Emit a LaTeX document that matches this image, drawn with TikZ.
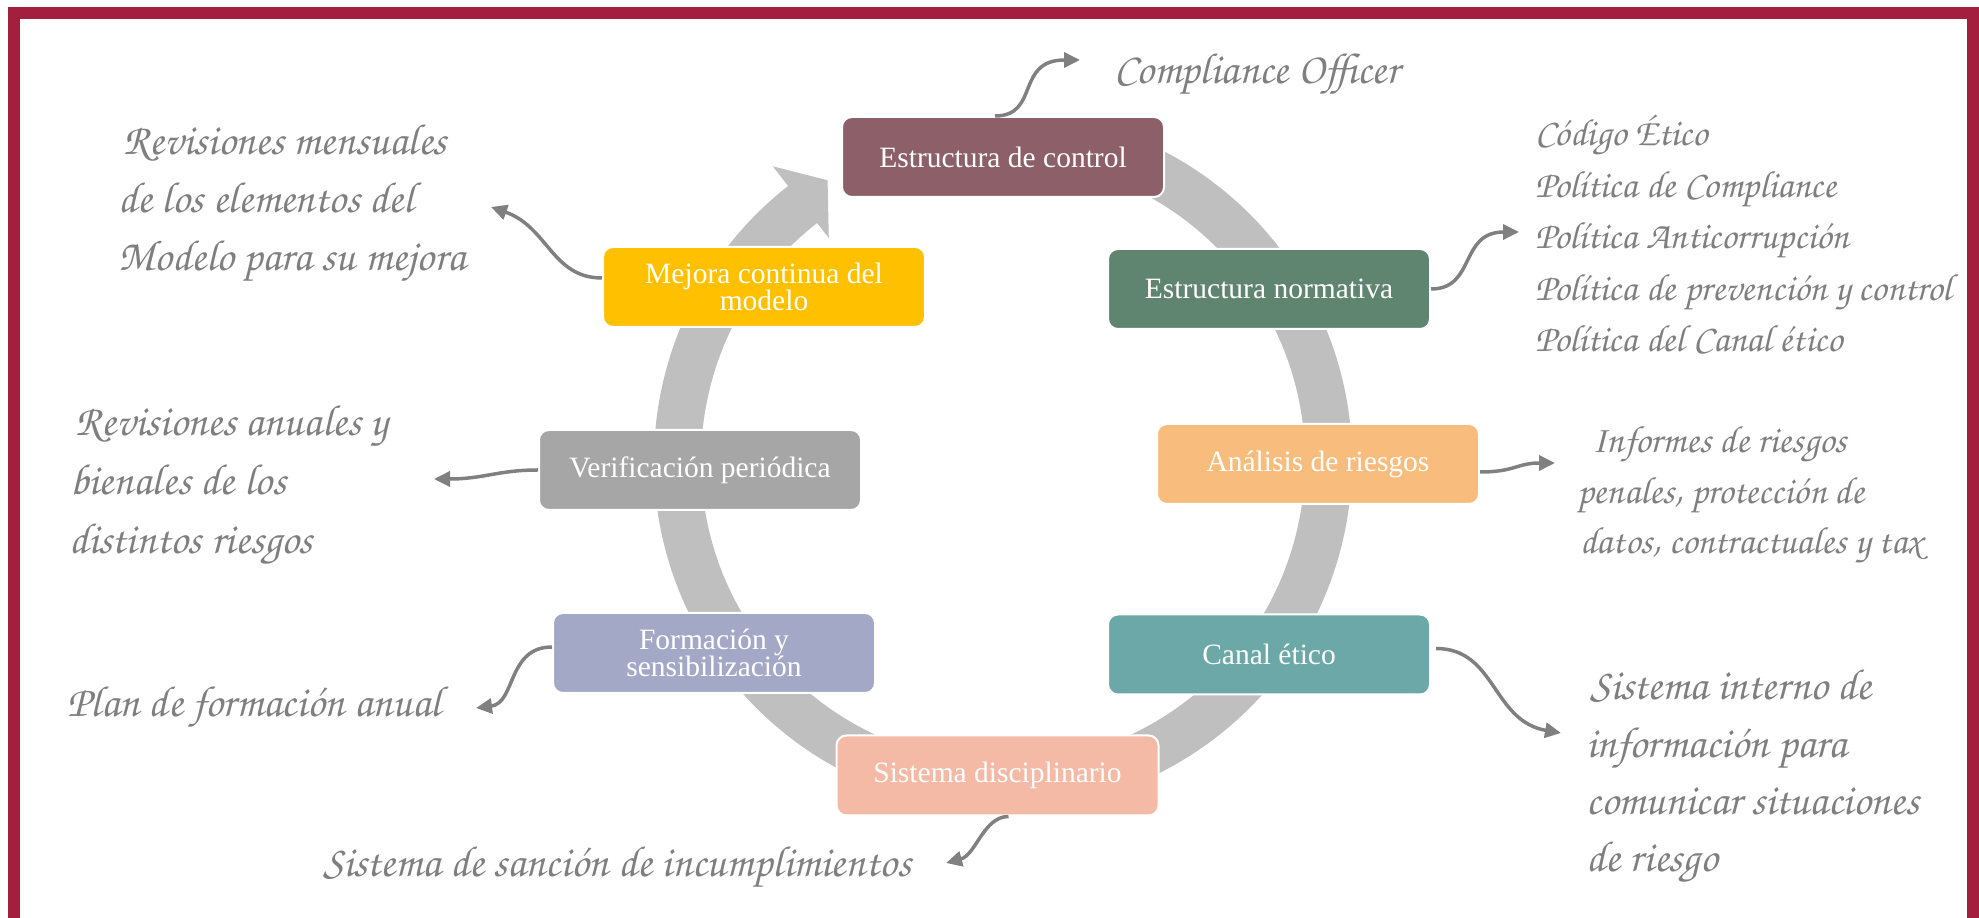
\documentclass[tikz,border=0pt]{standalone}
\usepackage{fontspec}
\setmainfont{Liberation Serif}
\newfontfamily\scriptf{texgyrechorus-mediumitalic.otf}
\usetikzlibrary{arrows.meta,calc}
\definecolor{framec}{RGB}{163,31,61}
\definecolor{ringc}{RGB}{191,191,191}
\definecolor{connc}{RGB}{128,128,128}
\definecolor{textc}{RGB}{127,127,127}
\definecolor{c1}{RGB}{140,95,105}
\definecolor{c2}{RGB}{95,133,112}
\definecolor{c3}{RGB}{255,192,0}
\definecolor{c4}{RGB}{248,189,124}
\definecolor{c5}{RGB}{166,166,166}
\definecolor{c6}{RGB}{163,168,199}
\definecolor{c7}{RGB}{107,168,167}
\definecolor{c8}{RGB}{245,186,166}
\begin{document}
\begin{tikzpicture}[x=1pt,y=1pt,
  box/.style={draw=white, line width=2pt, rounded corners=10pt, minimum width=322pt,
    minimum height=80pt, inner sep=2pt, text=white, align=center,
    font=\fontsize{29.5}{27}\selectfont},
  conn/.style={draw=connc, line width=3.5pt, -{Triangle[length=16pt,width=15pt]}},
  note/.style={anchor=base west, inner sep=0pt, text=textc,
    font=\scriptf\fontsize{43.5}{50}\selectfont},
  smallnote/.style={note, font=\scriptf\fontsize{38}{44}\selectfont},
]
\useasboundingbox (0,0) rectangle (1979,918);
% frame
\draw[framec, line width=12pt] (14,0) -- (14,904.5) -- (1972.5,904.5) -- (1972.5,0);
% ring arrow
\coordinate (C) at (1003,457);
\fill[ringc] ($(C)+(78:349)$) arc[start angle=78, end angle=-232, radius=349]
  -- ($(C)+(128:374)$) -- ($(C)+(122:331)$) -- ($(C)+(128:283)$)
  -- ($(C)+(128:302)$) arc[start angle=128, end angle=438, radius=302] -- cycle;
% boxes
\node[box, fill=c1] (ctrl) at (1003,761) {Estructura de control};
\node[box, fill=c2] (norm) at (1269,629) {Estructura normativa};
\node[box, fill=c3] (mej) at (764,631) {Mejora continua del\\modelo};
\node[box, fill=c4] (ries) at (1318,454) {Análisis de riesgos};
\node[box, fill=c5] (verif) at (700,448) {Verificación periódica};
\node[box, fill=c6] (form) at (714,265) {Formación y\\sensibilización};
\node[box, fill=c7] (canal) at (1269,263.5) {Canal ético};
\node[box, fill=c8] (disc) at (997.5,142.5) {Sistema disciplinario};
% connector ends
\coordinate (co) at (1080,858);
\coordinate (no) at (1519,686);
\coordinate (ri) at (1555,455);
\coordinate (ca) at (1561,185);
\coordinate (ve) at (434,439);
\coordinate (fo) at (476,210);
\coordinate (me) at (491,711);
\coordinate (di) at (946,55);
% connectors
\draw[conn] ([xshift=-8pt]ctrl.north) .. controls +(45,0) and +(-65,0) .. (co);
\draw[conn] (norm.east) .. controls +(45,0) and +(-60,0) .. (no);
\draw[conn] ([yshift=-8pt]ries.east) .. controls +(35,0) and +(-38,0) .. (ri);
\draw[conn] ([xshift=5pt,yshift=6pt]canal.east) .. controls +(60,0) and +(-69,12) .. (ca);
\draw[conn] (verif.west) .. controls +(-40,0) and +(50,0) .. (ve);
\draw[conn] ([yshift=6pt]form.west) .. controls +(-45,0) and +(40,5) .. (fo);
\draw[conn] ([yshift=9pt]mej.west) .. controls +(-50,0) and +(57,-20) .. (me);
\draw[conn] ([xshift=11pt]disc.south) .. controls +(-25,0) and +(30,8) .. (di);
% notes
\node[note] (tco) at (1114,834) {Compliance Officer};
\node[smallnote] (tno) at (1535,772) {\vtop{\baselineskip=51.5pt
  \hbox{Código Ético}\hbox{Política de Compliance}\hbox{Política Anticorrupción}
  \hbox{Política de prevención y control}\hbox{Política del Canal ético}}};
\node[smallnote] (tri) at (1577,465) {\vtop{\baselineskip=50.5pt
  \hbox{\kern15pt Informes de riesgos}\hbox{penales, protección de}
  \hbox{\kern3pt datos, contractuales y tax}}};
\node[note] (tca) at (1586,218) {\vtop{\baselineskip=57.3pt
  \hbox{\kern4pt Sistema interno de}\hbox{información para}
  \hbox{comunicar situaciones}\hbox{de riesgo}}};
\node[note] (tve) at (69,482) {\vtop{\baselineskip=59pt
  \hbox{\kern6pt Revisiones anuales y}\hbox{\kern1pt bienales de los}
  \hbox{distintos riesgos}}};
\node[note] (tfo) at (67,201) {Plan de formación anual};
\node[note] (tme) at (118,763) {\vtop{\baselineskip=58pt
  \hbox{\kern5pt Revisiones mensuales}\hbox{de los elementos del}
  \hbox{Modelo para su mejora}}};
\node[note] (tdi) at (323,41) {Sistema de sanción de incumplimientos};
\end{tikzpicture}
\end{document}
